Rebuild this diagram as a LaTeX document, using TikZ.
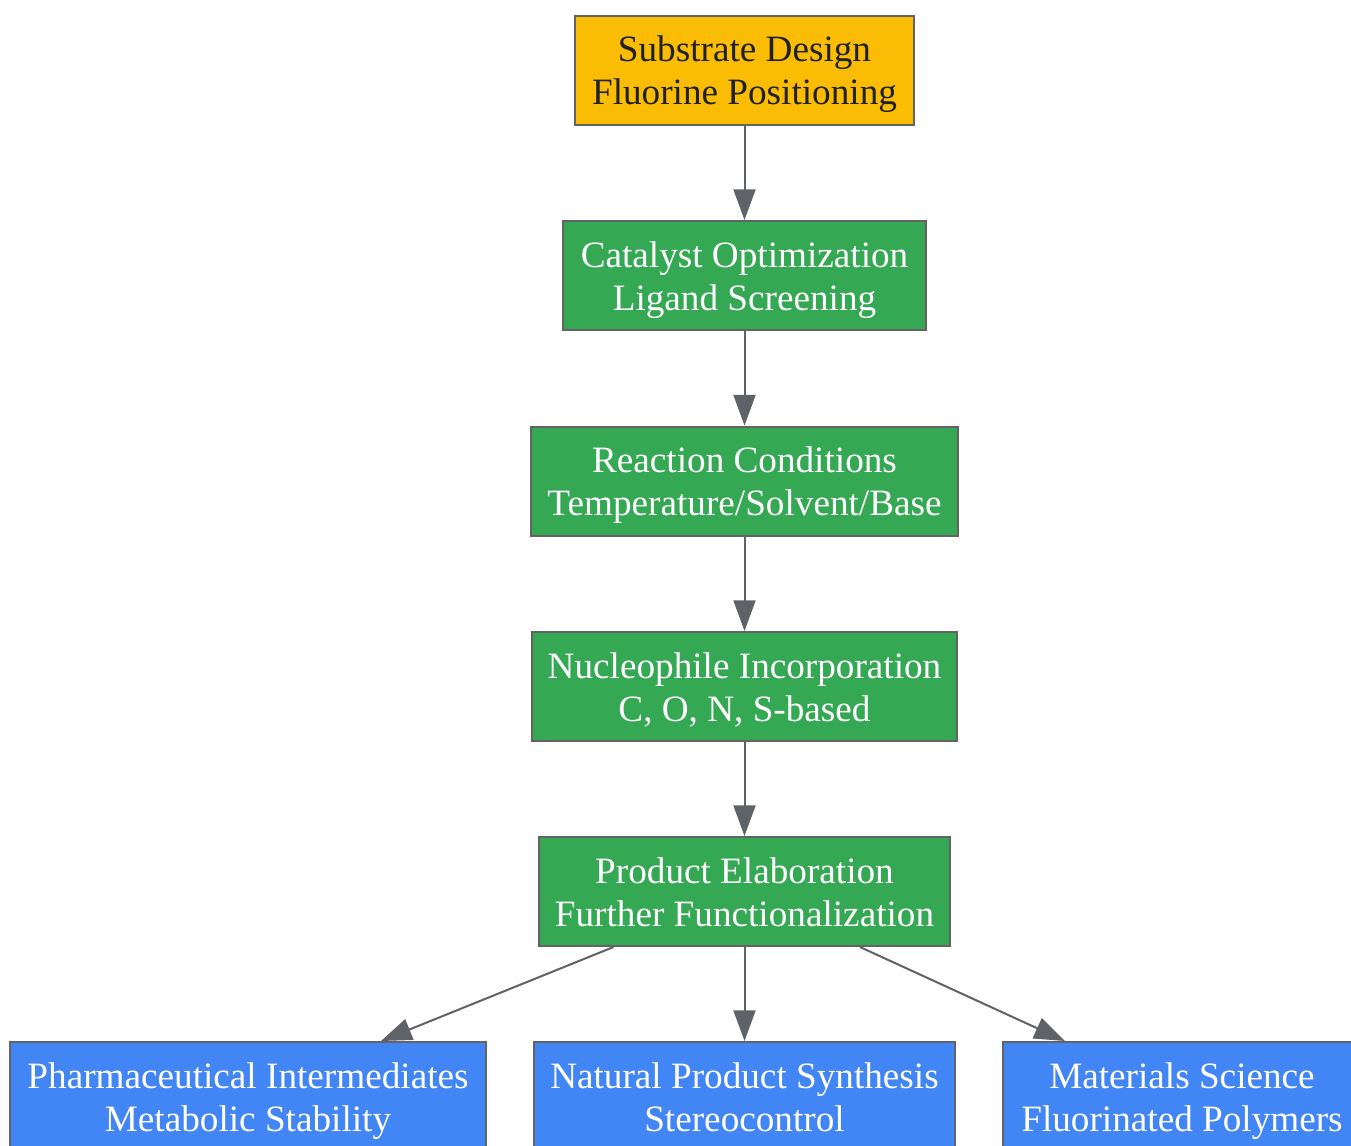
\documentclass[tikz,border=0pt]{standalone}
\usepackage{fontspec}
\setmainfont{Liberation Serif}
\usetikzlibrary{arrows.meta}
\definecolor{yel}{HTML}{FBBC04}
\definecolor{grn}{HTML}{34A853}
\definecolor{blu}{HTML}{4285F4}
\definecolor{bord}{HTML}{636363}
\definecolor{edge}{HTML}{5F6368}
\definecolor{dtext}{HTML}{202124}
\newcommand\tpr{\rule{0pt}{29.2pt}}
\newcommand\btr{\rule[-9.7pt]{0pt}{0pt}}
\tikzset{
  box/.style={draw=bord, line width=1.5pt, rectangle, align=center, inner sep=0pt,
    minimum height=81.75pt, font=\fontsize{27.9}{32.25}\selectfont},
  ybox/.style={box, fill=yel, text=dtext},
  gbox/.style={box, fill=grn, text=white},
  bbox/.style={box, fill=blu, text=white},
  conn/.style={draw=edge, line width=1.5pt, -{Triangle[length=23pt,width=16.5pt]}}
}
\begin{document}
\begin{tikzpicture}[x=0.75pt,y=-0.75pt]
\useasboundingbox (0,0) rectangle (1351,1145);
\clip (0,0) rectangle (1351,1145);
\fill[white] (0,0) rectangle (1351,1145);
\node[ybox, minimum width=254.25pt] (sub) at (744.5,70.5) {\tpr Substrate Design\\Fluorine Positioning\btr};
\node[gbox, minimum width=272.25pt] (cat) at (744.5,275.5) {\tpr Catalyst Optimization\\Ligand Screening\btr};
\node[gbox, minimum width=320.25pt] (rea) at (744.5,481) {\tpr Reaction Conditions\\Temperature/Solvent/Base\btr};
\node[gbox, minimum width=318.75pt] (nuc) at (744.5,686.5) {\tpr Nucleophile Incorporation\\C, O, N, S-based\btr};
\node[gbox, minimum width=308.25pt] (pro) at (744.5,891.5) {\tpr Product Elaboration\\Further Functionalization\btr};
\node[bbox, minimum width=357pt] (pha) at (248,1096.5) {\tpr Pharmaceutical Intermediates\\Metabolic Stability\btr};
\node[bbox, minimum width=315.75pt] (nat) at (744.5,1096.5) {\tpr Natural Product Synthesis\\Stereocontrol\btr};
\node[bbox, minimum width=268.5pt] (mat) at (1182,1096.5) {\tpr Materials Science\\Fluorinated Polymers\btr};
\draw[conn] (sub) -- (cat);
\draw[conn] (cat) -- (rea);
\draw[conn] (rea) -- (nuc);
\draw[conn] (nuc) -- (pro);
\draw[conn] (pro) -- (nat);
\coordinate (pl) at ([xshift=-98.25pt]pro.south);
\coordinate (pr) at ([xshift=86.6pt]pro.south);
\coordinate (phaT) at ([xshift=99.75pt]pha.north);
\coordinate (matT) at ([xshift=-87.75pt]mat.north);
\draw[conn] (pl) -- (phaT);
\draw[conn] (pr) -- (matT);
\end{tikzpicture}
\end{document}
